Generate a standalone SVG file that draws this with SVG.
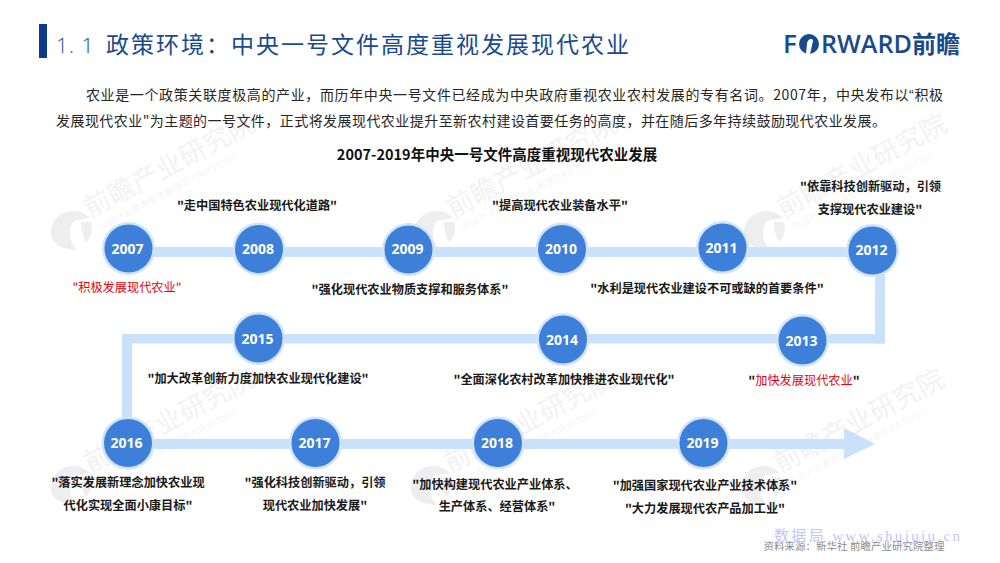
<svg xmlns="http://www.w3.org/2000/svg" width="1000" height="563" viewBox="0 0 1000 563">
<style>
text{font-family:"Noto Sans CJK SC","Noto Sans",sans-serif}
.wm{font-size:26.500px;fill:#f2f2f2;font-weight:400;letter-spacing:.5px}
.wms{font-size:8.500px;fill:#f5f5f5;letter-spacing:.5px}
.blob{fill:#eeeeee}
.t{font-size:12.200px;font-weight:700;fill:#1a1a1a;text-anchor:middle}
.r{font-size:12.200px;font-weight:400;fill:#e60012;text-anchor:middle}
.body{font-size:14px;fill:#262626}
.halo{fill:#cfe4fb}
.dot{fill:#3d7fd9}
.y{font-family:"Open Sans","Noto Sans",sans-serif;font-size:14px;font-weight:700;fill:#fff;text-anchor:middle}
.line{fill:#c9e1fb}
.logo{fill:#1a4a8e}
</style>
<defs>
<g id="wmark">
<path class="blob" d="M1,22C3,10 12,3 24,3C30,3 36,6 40,10L27,12C21,13 20,19 20,27C20,33 24,39 27,42C14,42 -1,36 1,22Z"/>
<path class="blob" d="M31,14L41,14C43,20 42,28 36,34C33,29 31,22 31,14Z"/>
<text class="wm" transform="translate(40,10) rotate(-28)">前瞻产业研究院</text>
<text class="wms" transform="translate(52,22) rotate(-28)">中国产业咨询领导者(股票代码835959)</text>
</g>
</defs>
<rect width="1000" height="563" fill="#fff"/>
<g id="watermarks">
<use href="#wmark" x="50" y="208"/>
<use href="#wmark" x="413" y="208"/>
<use href="#wmark" x="743" y="208"/>
<use href="#wmark" x="50" y="463"/>
<use href="#wmark" x="410" y="463"/>
<use href="#wmark" x="740" y="463"/>
</g>
<g id="header">
<rect x="39" y="24" width="8" height="34" fill="#0f3a8c"/>
<text x="56" y="53" font-size="21" fill="#1a4a8e" letter-spacing="1" style="font-family:'Open Sans',sans-serif;font-weight:300">1. 1</text>
<text x="106" y="53" font-size="23" fill="#1a4a8e" textLength="523" lengthAdjust="spacing">政策环境：中央一号文件高度重视发展现代农业</text>
<g id="logo">
<text class="logo" x="783" y="53" font-size="26" style="font-family:'Open Sans',sans-serif;font-weight:600">F</text>
<circle class="logo" cx="809" cy="44" r="10"/>
<path fill="#fff" d="M806,54L807,44C807,41 809,39 811,39C813,39 813.500,41 812.500,43L810,54Z"/>
<text class="logo" x="821" y="53" font-size="26" textLength="91" lengthAdjust="spacingAndGlyphs" style="font-family:'Open Sans',sans-serif;font-weight:600">RWARD</text>
<text class="logo" x="912" y="53" font-size="24" font-weight="700" textLength="48" lengthAdjust="spacingAndGlyphs">前瞻</text>
</g>
</g>
<g id="intro">
<text class="body" x="86" y="100" textLength="857" lengthAdjust="spacing">农业是一个政策关联度极高的产业，而历年中央一号文件已经成为中央政府重视农业农村发展的专有名词。2007年，中央发布以<tspan style="font-family:'Liberation Sans',sans-serif">“</tspan>积极</text>
<text class="body" x="56" y="126" textLength="830" lengthAdjust="spacing">发展现代农业"为主题的一号文件，正式将发展现代农业提升至新农村建设首要任务的高度，并在随后多年持续鼓励现代农业发展。</text>
<text x="497" y="160" font-size="14.500" font-weight="700" fill="#111" text-anchor="middle">2007-2019年中央一号文件高度重视现代农业发展</text>
</g>
<g id="connectors">
<rect class="line" x="128" y="247" width="757" height="10"/>
<rect class="line" x="875" y="247" width="10" height="96.500"/>
<rect class="line" x="122" y="334" width="763" height="9.500"/>
<rect class="line" x="122" y="334" width="10" height="110"/>
<rect class="line" x="122" y="439" width="725" height="10"/>
<polygon class="line" points="844,428 875,444 844,459"/>
</g>
<g id="n2007"><circle class="halo" cx="128.500" cy="248.500" r="26.500"/><circle class="dot" cx="128.500" cy="248.500" r="24"/><text class="y" x="127.500" y="254">2007</text></g>
<g id="n2008"><circle class="halo" cx="259" cy="249" r="26.500"/><circle class="dot" cx="259" cy="249" r="24"/><text class="y" x="258" y="254">2008</text></g>
<g id="n2009"><circle class="halo" cx="408.500" cy="249.500" r="26.500"/><circle class="dot" cx="408.500" cy="249.500" r="24"/><text class="y" x="407.500" y="254">2009</text></g>
<g id="n2010"><circle class="halo" cx="562" cy="249" r="26.500"/><circle class="dot" cx="562" cy="249" r="24"/><text class="y" x="561" y="254">2010</text></g>
<g id="n2011"><circle class="halo" cx="722.500" cy="247.500" r="26.500"/><circle class="dot" cx="722.500" cy="247.500" r="24"/><text class="y" x="721.500" y="253">2011</text></g>
<g id="n2012"><circle class="halo" cx="872.500" cy="250.500" r="26.500"/><circle class="dot" cx="872.500" cy="250.500" r="24"/><text class="y" x="871.500" y="255">2012</text></g>
<g id="n2013"><circle class="halo" cx="802.500" cy="340.500" r="26.500"/><circle class="dot" cx="802.500" cy="340.500" r="24"/><text class="y" x="801.500" y="346">2013</text></g>
<g id="n2014"><circle class="halo" cx="563" cy="339.500" r="26.500"/><circle class="dot" cx="563" cy="339.500" r="24"/><text class="y" x="562" y="345">2014</text></g>
<g id="n2015"><circle class="halo" cx="258.500" cy="338.500" r="26.500"/><circle class="dot" cx="258.500" cy="338.500" r="24"/><text class="y" x="257.500" y="344">2015</text></g>
<g id="n2016"><circle class="halo" cx="128" cy="443" r="26.500"/><circle class="dot" cx="128" cy="443" r="24"/><text class="y" x="126.500" y="448">2016</text></g>
<g id="n2017"><circle class="halo" cx="315.500" cy="443" r="26.500"/><circle class="dot" cx="315.500" cy="443" r="24"/><text class="y" x="314.500" y="448">2017</text></g>
<g id="n2018"><circle class="halo" cx="498" cy="443" r="26.500"/><circle class="dot" cx="498" cy="443" r="24"/><text class="y" x="497" y="448">2018</text></g>
<g id="n2019"><circle class="halo" cx="703.500" cy="443" r="26.500"/><circle class="dot" cx="703.500" cy="443" r="24"/><text class="y" x="702.500" y="448">2019</text></g>
<g id="labels">
<text class="r" x="127" y="292">"积极发展现代农业"</text>
<text class="t" x="257" y="210">"走中国特色农业现代化道路"</text>
<text class="t" x="410" y="294">"强化现代农业物质支撑和服务体系"</text>
<text class="t" x="560" y="210">"提高现代农业装备水平"</text>
<text class="t" x="707" y="293">"水利是现代农业建设不可或缺的首要条件"</text>
<text class="t" x="870.500" y="191">"依靠科技创新驱动，引领</text>
<text class="t" x="870" y="214">支撑现代农业建设"</text>
<text class="t" x="258" y="383">"加大改革创新力度加快农业现代化建设"</text>
<text class="t" x="564" y="384">"全面深化农村改革加快推进农业现代化"</text>
<text class="r" x="804" y="385"><tspan fill="#1a1a1a" font-weight="700">"</tspan>加快发展现代农业<tspan fill="#1a1a1a" font-weight="700">"</tspan></text>
<text class="t" x="128" y="487">"落实发展新理念加快农业现</text>
<text class="t" x="128" y="510">代化实现全面小康目标"</text>
<text class="t" x="315" y="487">"强化科技创新驱动，引领</text>
<text class="t" x="315" y="510">现代农业加快发展"</text>
<text class="t" x="495" y="489">"加快构建现代农业产业体系、</text>
<text class="t" x="497" y="511">生产体系、经营体系"</text>
<text class="t" x="705" y="490">"加强国家现代农业产业技术体系"</text>
<text class="t" x="705" y="513">"大力发展现代农产品加工业"</text>
</g>
<g id="footer">
<text x="854" y="550" font-size="10.500" fill="#8c8c8c" text-anchor="middle">资料来源：新华社 前瞻产业研究院整理</text>
<text x="774" y="541" font-size="15" fill="#c3c6f5" textLength="186" lengthAdjust="spacing" style="font-family:'Liberation Serif','Noto Sans CJK SC',serif">数据局  www.shujuju.cn</text>
</g>
</svg>
